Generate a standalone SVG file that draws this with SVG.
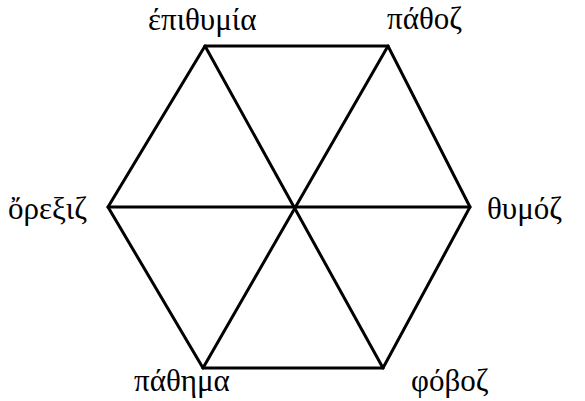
<svg xmlns="http://www.w3.org/2000/svg" width="585" height="401" viewBox="0 0 585 401">
<style>
.edge{stroke:#000;stroke-width:3;fill:none;stroke-linecap:round;stroke-linejoin:miter}
.lbl{font-family:"Liberation Serif","DejaVu Serif",serif;font-size:31px;fill:#000}
</style>
<rect width="585" height="401" fill="#fff"/>
<g id="connectors">
<polygon class="edge" points="205,46 388,46 470,207 383,368 203,368 108,207"/>
<line class="edge" x1="205" y1="46" x2="383" y2="368"/>
<line class="edge" x1="388" y1="46" x2="203" y2="368"/>
<line class="edge" x1="108" y1="207" x2="470" y2="207"/>
</g>
<g id="n-epithymia"><text class="lbl" x="148" y="30">έπιθυμία</text></g>
<g id="n-pathos"><text class="lbl" x="387" y="29">πάθοζ</text></g>
<g id="n-orexis"><text class="lbl" x="8" y="219">ὄρεξιζ</text></g>
<g id="n-thymos"><text class="lbl" x="487" y="219">θυμόζ</text></g>
<g id="n-pathema"><text class="lbl" x="134" y="391">πάθημα</text></g>
<g id="n-phobos"><text class="lbl" x="411" y="391">φόβοζ</text></g>
</svg>
